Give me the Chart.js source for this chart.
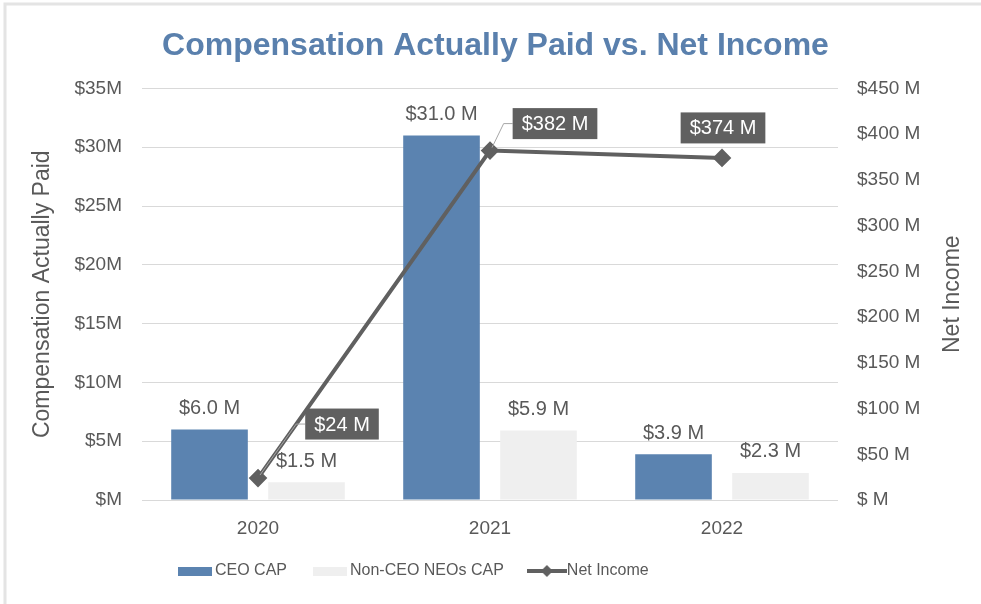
<!DOCTYPE html>
<html>
<head>
<meta charset="utf-8">
<title>Compensation Actually Paid vs. Net Income</title>
<script src="https://cdn.jsdelivr.net/npm/chart.js@4/dist/chart.umd.min.js"></script>
<style>
  html, body { margin: 0; padding: 0; background: #fff; }
  #wrap { width: 981px; height: 604px; position: relative; }
</style>
</head>
<body>
<div id="wrap"><canvas id="capChart"></canvas></div>
<script>
const years = ['2020', '2021', '2022'];
const ceoCap = [6.0, 31.0, 3.9];
const nonCeoCap = [1.5, 5.9, 2.3];
const netIncome = [24, 382, 374];
const leftTickLabels = ['$M', '$5M', '$10M', '$15M', '$20M', '$25M', '$30M', '$35M'];
const rightTickLabels = ['$ M', '$50 M', '$100 M', '$150 M', '$200 M', '$250 M', '$300 M', '$350 M', '$400 M', '$450 M'];

const BLUE = '#5b83b0';
const LIGHT = '#efefef';
const DARK = '#606060';
const TEXT = '#595959';

Chart.defaults.font.family = "'Liberation Sans', Arial, sans-serif";
Chart.defaults.color = TEXT;

// little legend icons (bar swatches + line with diamond)
function makeIcon(kind, color) {
    const c = document.createElement('canvas');
    c.width = kind === 'line' ? 40 : 34;
    c.height = 14;
    const g = c.getContext('2d');
    g.fillStyle = color;
    g.strokeStyle = color;
    if (kind === 'line') {
        g.lineWidth = 4;
        g.beginPath();
        g.moveTo(0, 7);
        g.lineTo(40, 7);
        g.stroke();
        g.beginPath();
        g.moveTo(20, 1); g.lineTo(26, 7); g.lineTo(20, 13); g.lineTo(14, 7);
        g.closePath();
        g.fill();
    } else {
        g.fillRect(0, 3, 34, 9);
    }
    return c;
}
const legendIcons = [makeIcon('bar', BLUE), makeIcon('bar', LIGHT), makeIcon('line', DARK)];

// where the net income boxes sit relative to their point
const boxOffsets = [
    { dx: 84, dy: -54, leader: true },
    { dx: 65, dy: -27, leader: true },
    { dx: 1, dy: -30, leader: false }
];

const labelPlugin = {
    id: 'capLabels',
    beforeDraw(chart) {
        const ctx = chart.ctx;
        ctx.save();
        ctx.strokeStyle = '#e4e4e4';
        ctx.lineWidth = 3;
        ctx.strokeRect(5, 4, 1000, 620);
        ctx.restore();
    },
    afterLayout(chart) {
        chart.legend.left = 152;
        chart.legend.top = 532;
    },
    afterDatasetsDraw(chart) {
        const ctx = chart.ctx;
        ctx.save();
        ctx.font = "20px 'Liberation Sans', Arial, sans-serif";
        ctx.textAlign = 'center';
        ctx.textBaseline = 'middle';
        ctx.fillStyle = TEXT;
        [0, 1].forEach(di => {
            const values = chart.data.datasets[di].data;
            chart.getDatasetMeta(di).data.forEach((bar, i) => {
                ctx.fillText('$' + values[i].toFixed(1) + ' M', bar.x, bar.y - 21);
            });
        });

        const lineMeta = chart.getDatasetMeta(2);
        lineMeta.data.forEach((pt, i) => {
            const txt = '$' + netIncome[i] + ' M';
            const off = boxOffsets[i];
            const w = ctx.measureText(txt).width + 18;
            const h = 31;
            const bx = pt.x + off.dx;
            const by = pt.y + off.dy;
            const left = bx - w / 2;
            if (off.leader) {
                ctx.strokeStyle = '#a6a6a6';
                ctx.lineWidth = 1;
                ctx.beginPath();
                ctx.moveTo(pt.x + 2, pt.y - 3);
                ctx.lineTo(left - 9, by);
                ctx.lineTo(left, by);
                ctx.stroke();
            }
            ctx.fillStyle = DARK;
            ctx.fillRect(left, by - h / 2, w, h);
            ctx.fillStyle = '#ffffff';
            ctx.fillText(txt, bx, by + 1);
        });

        // right axis title, reading bottom to top
        const area = chart.chartArea;
        ctx.translate(953, (area.top + area.bottom) / 2);
        ctx.rotate(-Math.PI / 2);
        ctx.fillStyle = TEXT;
        ctx.font = "23px 'Liberation Sans', Arial, sans-serif";
        ctx.fillText('Net Income', 0, 0);
        ctx.restore();
    }
};

document.addEventListener('DOMContentLoaded', function() {
    const ctx = document.getElementById('capChart').getContext('2d');
    new Chart(ctx, {
        type: 'bar',
        data: {
            labels: years,
            datasets: [
                {
                    label: 'CEO CAP',
                    data: ceoCap,
                    backgroundColor: BLUE,
                    yAxisID: 'y',
                    order: 1,
                    barPercentage: 0.79,
                    categoryPercentage: 0.836
                },
                {
                    label: 'Non-CEO NEOs CAP',
                    data: nonCeoCap,
                    backgroundColor: LIGHT,
                    yAxisID: 'y',
                    order: 1,
                    barPercentage: 0.79,
                    categoryPercentage: 0.836
                },
                {
                    type: 'line',
                    label: 'Net Income',
                    data: netIncome,
                    yAxisID: 'y1',
                    order: 0,
                    borderColor: DARK,
                    borderWidth: 4,
                    backgroundColor: DARK,
                    pointStyle: 'rectRot',
                    pointRadius: 6.5,
                    pointBackgroundColor: DARK,
                    pointBorderColor: DARK,
                    tension: 0
                }
            ]
        },
        options: {
            responsive: true,
            maintainAspectRatio: false,
            animation: false,
            layout: { padding: { left: 20, right: 10, top: 4, bottom: 0 } },
            plugins: {
                title: {
                    display: true,
                    text: 'Compensation Actually Paid vs. Net Income',
                    color: '#5a80ad',
                    font: { size: 32, weight: 'bold' },
                    padding: { top: 23, bottom: 23 }
                },
                legend: {
                    position: 'bottom',
                    align: 'start',
                    labels: {
                        usePointStyle: true,
                        pointStyleWidth: 24,
                        padding: 31,
                        color: TEXT,
                        font: { size: 16 },
                        sort: (a, b) => a.datasetIndex - b.datasetIndex,
                        generateLabels(chart) {
                            const items = Chart.defaults.plugins.legend.labels.generateLabels(chart);
                            items.forEach(it => { it.pointStyle = legendIcons[it.datasetIndex]; });
                            return items;
                        }
                    }
                },
                tooltip: { enabled: false }
            },
            scales: {
                x: {
                    grid: { display: false },
                    border: { display: false },
                    ticks: { font: { size: 19 }, color: TEXT, padding: 9 },
                    afterFit(scale) { scale.height = 47; }
                },
                y: {
                    position: 'left',
                    min: 0,
                    max: 35,
                    ticks: {
                        stepSize: 5,
                        padding: 20,
                        font: { size: 19 },
                        color: TEXT,
                        callback: (v, i) => leftTickLabels[i]
                    },
                    grid: { color: '#d9d9d9', drawTicks: false },
                    border: { display: false },
                    title: {
                        display: true,
                        text: 'Compensation Actually Paid',
                        color: TEXT,
                        font: { size: 23 },
                        padding: { top: 9, bottom: 0 }
                    },
                    afterFit(scale) { scale.width = 122; }
                },
                y1: {
                    position: 'right',
                    min: 0,
                    max: 450,
                    ticks: {
                        stepSize: 50,
                        padding: 19,
                        font: { size: 19 },
                        color: TEXT,
                        callback: (v, i) => rightTickLabels[i]
                    },
                    grid: { display: false, drawTicks: false },
                    border: { display: false },
                    afterFit(scale) { scale.width = 133; }
                }
            }
        },
        plugins: [labelPlugin]
    });
});
</script>
</body>
</html>
